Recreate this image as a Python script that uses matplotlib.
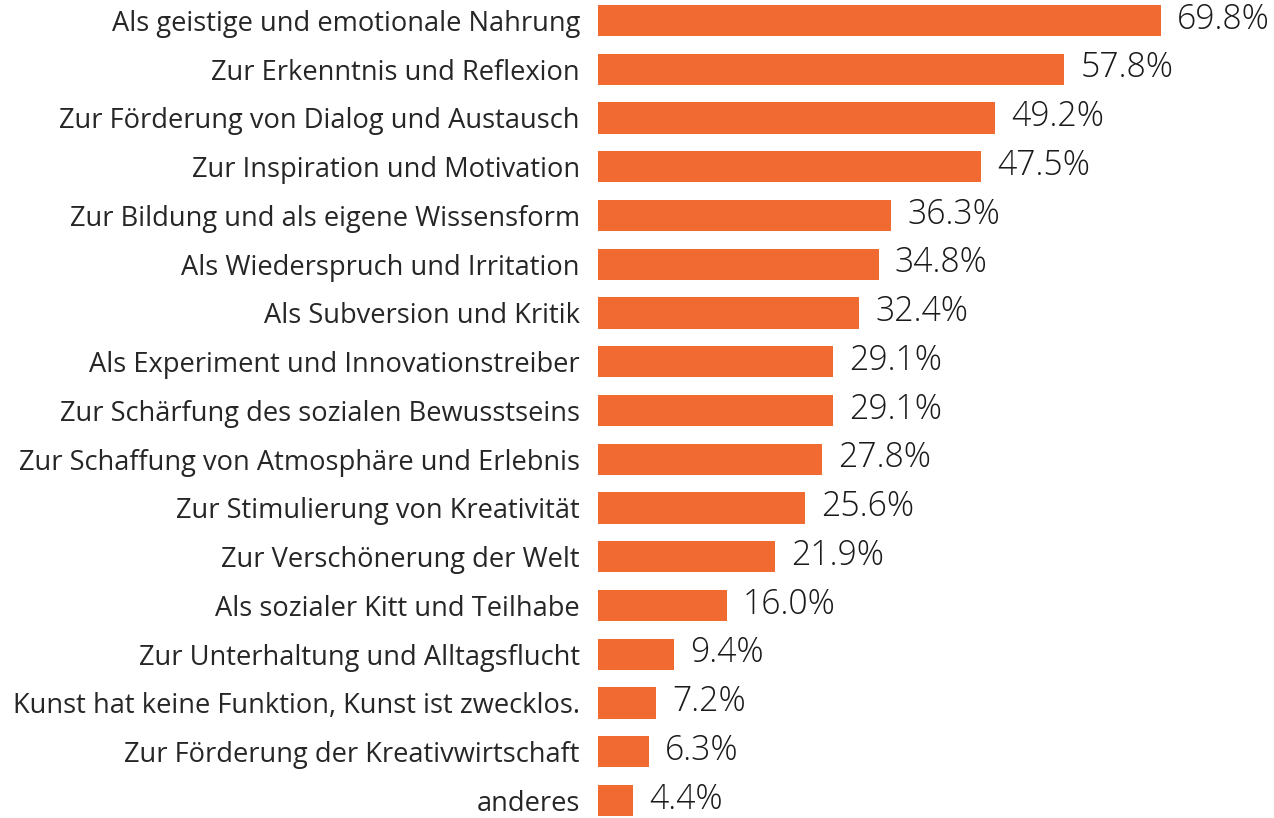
import matplotlib.pyplot as plt

labels = [
    "Als geistige und emotionale Nahrung",
    "Zur Erkenntnis und Reflexion",
    "Zur Förderung von Dialog und Austausch",
    "Zur Inspiration und Motivation",
    "Zur Bildung und als eigene Wissensform",
    "Als Wiederspruch und Irritation",
    "Als Subversion und Kritik",
    "Als Experiment und Innovationstreiber",
    "Zur Schärfung des sozialen Bewusstseins",
    "Zur Schaffung von Atmosphäre und Erlebnis",
    "Zur Stimulierung von Kreativität",
    "Zur Verschönerung der Welt",
    "Als sozialer Kitt und Teilhabe",
    "Zur Unterhaltung und Alltagsflucht",
    "Kunst hat keine Funktion, Kunst ist zwecklos.",
    "Zur Förderung der Kreativwirtschaft",
    "anderes",
]
values = [69.8, 57.8, 49.2, 47.5, 36.3, 34.8, 32.4, 29.1, 29.1,
          27.8, 25.6, 21.9, 16.0, 9.4, 7.2, 6.3, 4.4]

bar_color = "#F06A32"

fig = plt.figure(figsize=(12.74, 8.18), dpi=100)
ax = fig.add_axes([598 / 1274, 0.0, 676 / 1274, 1.0])

ypos = list(range(len(values)))
ax.barh(ypos, values, height=0.64, color=bar_color)

# percentage labels just right of each bar
for y, v in zip(ypos, values):
    ax.text(v + 2.0, y - 0.02, f"{v:.1f}%", va="center", ha="left",
            fontsize=24.3, color="#1a1a1a", family="Open Sans", fontweight="light")

ax.set_xlim(0, 83.8)
ax.set_ylim(16.36, -0.42)
ax.set_yticks(ypos)
ax.set_yticklabels(labels, fontsize=19.6, color="#262626", family="Open Sans")
ax.tick_params(axis="y", length=0, pad=13)
ax.set_xticks([])
for s in ax.spines.values():
    s.set_visible(False)

fig.savefig("out.png", dpi=100)
